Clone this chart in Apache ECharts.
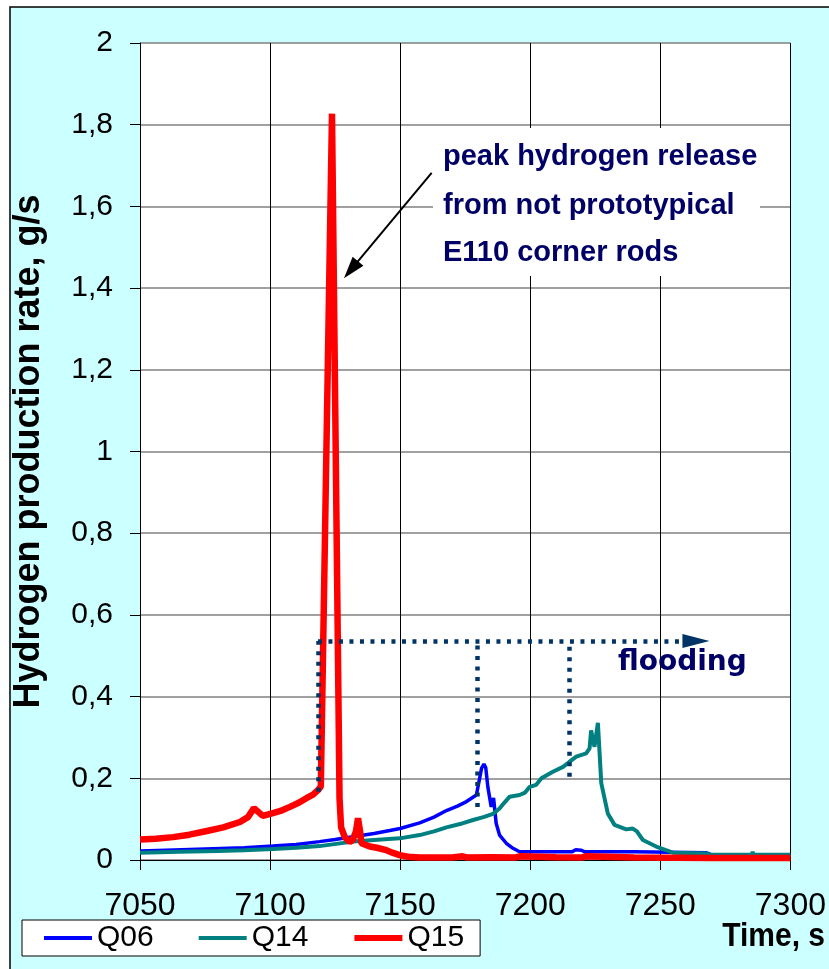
<!DOCTYPE html>
<html>
<head>
<meta charset="utf-8">
<script src="https://cdn.jsdelivr.net/npm/echarts@6/dist/echarts.min.js"></script>
<style>
  html, body { margin: 0; padding: 0; background: #ffffff; }
  #chart { width: 829px; height: 969px; }
</style>
</head>
<body>
<div id="chart"></div>
<script>
// Hydrogen production rate during quench tests Q06, Q14, Q15
const xTicks = [7050, 7100, 7150, 7200, 7250, 7300];
const yTicks = [0, 0.2, 0.4, 0.6, 0.8, 1, 1.2, 1.4, 1.6, 1.8, 2];

const timeQ06 = [7050, 7060, 7075, 7090, 7101, 7110, 7119, 7125, 7131.8, 7140, 7146, 7150, 7157.5, 7163, 7167.8, 7172, 7175.5, 7179.3, 7181.3, 7182.2, 7182.9, 7183.7, 7185, 7185.9, 7186.9, 7188.2, 7190.8, 7193, 7195.9, 7216, 7217.5, 7219.5, 7221, 7240, 7267.6, 7270, 7300];
const rateQ06 = [0.022, 0.024, 0.027, 0.030, 0.034, 0.038, 0.045, 0.050, 0.057, 0.065, 0.072, 0.077, 0.091, 0.105, 0.121, 0.132, 0.143, 0.159, 0.225, 0.235, 0.226, 0.179, 0.130, 0.152, 0.090, 0.061, 0.041, 0.030, 0.020, 0.020, 0.025, 0.024, 0.020, 0.020, 0.018, 0.012, 0.012];

const timeQ14 = [7050, 7065, 7080, 7090, 7101, 7110, 7119, 7131.8, 7140, 7149.8, 7157.5, 7163, 7167.8, 7173, 7178, 7182, 7185.7, 7188.2, 7190, 7192.1, 7195.9, 7198, 7199.8, 7202.3, 7204.3, 7208.7, 7212.6, 7215, 7217.7, 7221.5, 7222.8, 7223.4, 7224.7, 7226, 7227.3, 7229.8, 7232.4, 7236.9, 7239.4, 7241, 7243.3, 7248.4, 7254.8, 7267.6, 7269, 7285, 7285.5, 7286, 7300];
const rateQ14 = [0.018, 0.020, 0.022, 0.024, 0.027, 0.030, 0.034, 0.045, 0.049, 0.053, 0.061, 0.070, 0.080, 0.088, 0.098, 0.105, 0.113, 0.126, 0.140, 0.155, 0.159, 0.165, 0.179, 0.184, 0.200, 0.216, 0.228, 0.240, 0.253, 0.261, 0.273, 0.317, 0.277, 0.336, 0.188, 0.114, 0.086, 0.075, 0.077, 0.070, 0.049, 0.033, 0.018, 0.016, 0.013, 0.013, 0.019, 0.013, 0.013];

const timeQ15 = [7050, 7056, 7062.7, 7069, 7075.7, 7082, 7088.4, 7091.5, 7093.8, 7097.2, 7101.1, 7104, 7107.6, 7111, 7114.1, 7116.5, 7118.4, 7119.5, 7123.8, 7126.7, 7127.3, 7128.7, 7130.6, 7131.8, 7133.0, 7133.8, 7134.6, 7135.1, 7138.3, 7141, 7144.7, 7147, 7149.8, 7153, 7157.5, 7170, 7174, 7176, 7185, 7194, 7196, 7210, 7220, 7221, 7240, 7270, 7300];
const rateQ15 = [0.050, 0.052, 0.056, 0.062, 0.071, 0.080, 0.093, 0.105, 0.127, 0.108, 0.115, 0.120, 0.130, 0.140, 0.152, 0.160, 0.171, 0.180, 1.827, 0.150, 0.080, 0.056, 0.044, 0.049, 0.070, 0.102, 0.070, 0.041, 0.033, 0.030, 0.024, 0.018, 0.012, 0.008, 0.006, 0.006, 0.009, 0.006, 0.007, 0.006, 0.009, 0.007, 0.006, 0.009, 0.006, 0.005, 0.005];

// flooding start markers and arrow level
const floodLevel = 0.536;
const floodStarts = [7118.4, 7179.8, 7215.1];
const floodBottoms = [0.167, 0.13, 0.204];
const floodArrowEnd = 7263.7;

// pointer to the Q15 peak
const pointerFrom = [7162.1, 1.682];
const pointerTo = [7131.1, 1.445];

const FONT = '"Liberation Sans", Arial, sans-serif';
const NAVY = '#000066';
const DOT = '#003366';

function pairs(t, v) { return t.map((x, i) => [x, v[i]]); }

const floodLines = [
  [{ coord: [floodStarts[0], floodLevel] }, { coord: [floodArrowEnd, floodLevel], symbol: 'triangle', symbolSize: [14, 27] }]
];
floodStarts.forEach((x, i) => {
  floodLines.push([{ coord: [x, floodBottoms[i]] }, { coord: [x, floodLevel] }]);
});

const noteFont = 'bold 29px ' + FONT;

const chart = echarts.init(document.getElementById('chart'), null, { renderer: 'canvas' });
chart.setOption({
  backgroundColor: '#ffffff',
  animation: false,
  graphic: [
    { type: 'rect', z: -100, shape: { x: 10, y: 7, width: 830, height: 975 },
      style: { fill: '#CCFFFF', stroke: '#000', lineWidth: 1.5 } },
    { type: 'rect', z: 50, shape: { x: 433, y: 128, width: 327, height: 148 }, style: { fill: '#ffffff' } },
    { type: 'text', z: 51, x: 443, y: 157, style: { text: 'peak hydrogen release', font: noteFont, fill: NAVY, textVerticalAlign: 'middle' } },
    { type: 'text', z: 51, x: 443, y: 206, style: { text: 'from not prototypical', font: noteFont, fill: NAVY, textVerticalAlign: 'middle' } },
    { type: 'text', z: 51, x: 443, y: 253, style: { text: 'E110 corner rods', font: noteFont, fill: NAVY, textVerticalAlign: 'middle' } },
    { type: 'text', z: 51, x: 618, y: 663, style: { text: 'flooding', font: 'bold 28px "DejaVu Sans", Verdana, sans-serif', fill: NAVY, textVerticalAlign: 'middle' } },
    { type: 'text', z: 51, x: 825, y: 937, scaleY: 1.12,
      style: { text: 'Time, s', font: 'bold 30px ' + FONT, fill: '#000', textAlign: 'right', textVerticalAlign: 'middle' } }
  ],
  grid: { left: 140, right: 38, top: 43, bottom: 109, show: true, backgroundColor: '#ffffff', borderWidth: 0 },
  legend: {
    left: 22, top: 920,
    data: [
      { name: 'Q06', lineStyle: { width: 4 } },
      { name: 'Q14', lineStyle: { width: 4 } },
      { name: 'Q15', lineStyle: { width: 6 } }
    ],
    backgroundColor: '#ffffff', borderColor: '#000', borderWidth: 1,
    padding: [3, 16, 3, 20],
    itemWidth: 48, itemHeight: 14, itemGap: 43,
    itemStyle: { opacity: 0 },
    textStyle: { fontFamily: FONT, fontSize: 30, color: '#000' }
  },
  xAxis: {
    type: 'value', min: xTicks[0], max: xTicks[xTicks.length - 1], interval: 50,
    axisLine: { show: true, lineStyle: { color: '#000', width: 1 } },
    axisTick: { show: true, length: 10, lineStyle: { color: '#000' } },
    axisLabel: { fontFamily: FONT, fontSize: 32, color: '#000', margin: 30, formatter: v => String(v) },
    splitLine: { show: true, lineStyle: { color: '#000', width: 1 } }
  },
  yAxis: {
    type: 'value', min: yTicks[0], max: yTicks[yTicks.length - 1], interval: 0.2,
    name: 'Hydrogen production rate, g/s', nameLocation: 'middle', nameGap: 93,
    nameTextStyle: { fontFamily: FONT, fontSize: 36, fontWeight: 'bold', color: '#000' },
    axisLine: { show: true, lineStyle: { color: '#000', width: 1 } },
    axisTick: { show: true, length: 10, lineStyle: { color: '#000' } },
    axisLabel: { fontFamily: FONT, fontSize: 30, color: '#000', margin: 27,
      formatter: v => String(Math.round(v * 10) / 10).replace('.', ',') },
    splitLine: { show: true, lineStyle: { color: '#808080', width: 1.5 } }
  },
  series: [
    { name: 'Q06', type: 'line', data: pairs(timeQ06, rateQ06), showSymbol: false, symbol: 'none',
      lineStyle: { color: '#0000FF', width: 3.5 }, itemStyle: { color: '#0000FF' } },
    { name: 'Q14', type: 'line', data: pairs(timeQ14, rateQ14), showSymbol: false, symbol: 'none',
      lineStyle: { color: '#008080', width: 4 }, itemStyle: { color: '#008080' } },
    { name: 'Q15', type: 'line', data: pairs(timeQ15, rateQ15), showSymbol: false, symbol: 'none',
      lineStyle: { color: '#FF0000', width: 6.5 }, itemStyle: { color: '#FF0000' } },
    { name: 'flooding', type: 'line', data: [], silent: true,
      markLine: { silent: true, animation: false, symbol: ['none', 'none'], label: { show: false },
        lineStyle: { color: DOT, width: 4.5, type: [4, 6.5] },
        emphasis: { disabled: true },
        data: floodLines } },
    { name: 'pointer', type: 'line', data: [], silent: true,
      markLine: { silent: true, animation: false, symbol: ['none', 'triangle'], symbolSize: [14, 22],
        label: { show: false }, lineStyle: { color: '#000', width: 2, type: 'solid' },
        itemStyle: { color: '#000' },
        emphasis: { disabled: true },
        data: [[{ coord: pointerFrom }, { coord: pointerTo }]] } }
  ]
});
</script>
</body>
</html>
